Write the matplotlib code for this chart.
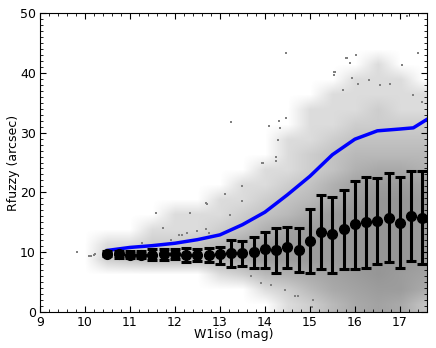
import numpy as np
import matplotlib
matplotlib.use("Agg")
import matplotlib.pyplot as plt

# =====================================================
# Data
# =====================================================

# binned medians with asymmetric spread
bin_mag = [10.5, 10.75, 11.0, 11.25, 11.5, 11.75, 12.0, 12.25, 12.5, 12.75,
           13.0, 13.25, 13.5, 13.75, 14.0, 14.25, 14.5, 14.75, 15.0, 15.25,
           15.5, 15.75, 16.0, 16.25, 16.5, 16.75, 17.0, 17.25, 17.5]
bin_rfuzzy = [9.75, 9.65, 9.6, 9.6, 9.6, 9.7, 9.7, 9.6, 9.6, 9.6,
              9.65, 9.8, 9.8, 10.1, 10.5, 10.4, 10.8, 10.4, 11.9, 13.4,
              13.0, 13.85, 14.7, 15.0, 15.25, 15.8, 14.9, 16.05, 15.8]
bin_low = [9.3, 9.1, 9.0, 9.0, 8.7, 8.7, 8.9, 8.4, 8.6, 8.4,
           8.1, 7.6, 7.7, 7.3, 7.3, 6.6, 7.3, 6.7, 6.5, 7.2,
           6.6, 7.25, 7.2, 7.4, 7.95, 8.35, 7.4, 8.55, 8.1]
bin_high = [10.2, 10.2, 10.25, 10.25, 10.5, 10.6, 10.5, 10.75, 10.6, 10.75,
            10.9, 12.1, 11.8, 12.6, 13.4, 14.1, 14.2, 14.1, 17.2, 19.6,
            19.3, 20.35, 21.9, 22.6, 22.45, 23.25, 22.5, 23.55, 23.55]

# blue curve
curve_mag = [10.5, 11.0, 11.5, 12.0, 12.5, 13.0, 13.5, 14.0, 14.5, 15.0,
             15.5, 16.0, 16.5, 17.0, 17.3, 17.6]
curve_rfuzzy = [10.3, 10.8, 11.1, 11.5, 12.1, 12.9, 14.6, 16.7, 19.6, 22.7,
                26.3, 28.9, 30.3, 30.6, 30.8, 32.2]

# density of the grey cloud (0-9), rows from y=50 down to y=0 in 2.5 steps,
# columns centred on 10.0, 10.5, ... 17.5 mag
cloud_rows = [
    "0000000000000000",  # 47.5-50
    "0000000000000000",
    "0000000000000000",
    "0000000000000100",  # 40-42.5
    "0000000000001110",
    "0000000000011111",
    "0000000000111211",
    "0000000000112222",  # 30-32.5
    "0000000001123333",
    "0000000001234444",
    "0000000011235665",
    "0000000112357887",  # 20-22.5
    "0000001123468998",
    "0000111234689998",
    "0001112357889998",
    "0112234688889998",  # 10-12.5
    "0234445688889998",
    "0000001245678987",
    "0000000012467886",
    "0000000001246763",  # 0-2.5
]
cloud = np.array([[int(c) for c in row] for row in cloud_rows], dtype=float)

# isolated points outside the dense cloud
out_mag = [9.83, 10.1, 10.14, 10.19, 10.22, 11.04, 11.26, 11.59, 11.74, 11.91,
           12.1, 12.15, 12.26, 12.33, 12.48, 12.69, 12.72, 12.76, 12.69, 13.11,
           13.22, 13.25, 13.48, 13.5, 13.93, 13.96, 14.1, 14.25, 14.25, 14.3,
           14.31, 14.33, 14.47, 14.48, 15.54, 15.54, 15.55, 15.74, 15.81, 15.82,
           15.89, 15.94, 16.02, 16.06, 16.32, 16.56, 16.78, 17.04, 17.15, 17.3,
           17.4, 17.5, 13.7, 13.92, 14.14, 14.44, 14.66, 14.74, 15.04, 15.07]
out_rfuzzy = [10.1, 9.4, 9.3, 9.5, 9.7, 10.9, 11.5, 16.6, 14.1, 12.0,
              12.9, 12.9, 13.2, 16.5, 13.6, 13.8, 18.0, 13.2, 18.2, 19.7,
              16.2, 31.7, 18.5, 21.1, 25.0, 25.0, 31.1, 26.0, 25.2, 28.8,
              31.9, 30.7, 32.5, 43.3, 40.2, 39.6, 40.2, 37.2, 42.4, 42.4,
              41.6, 39.1, 43.0, 38.1, 38.8, 38.0, 38.1, 41.3, 49.5, 36.3,
              43.3, 35.2, 6.0, 4.8, 4.5, 3.7, 2.6, 2.6, 0.9, 2.0]

# =====================================================
# Figure
# =====================================================

plt.rcParams["font.family"] = "DejaVu Sans"
plt.rcParams["font.size"] = 9

fig = plt.figure(figsize=(4.36, 3.48), dpi=100)
ax = fig.add_axes([0.0917, 0.1034, 0.8873, 0.8592])

# cloud as a grey wash
rgba = np.zeros(cloud.shape + (4,))
rgba[..., :3] = 0.5
rgba[..., 3] = 0.82 * (cloud / 9.0) ** 0.5
ax.imshow(
    rgba,
    extent=[9.75, 17.75, 0, 50],
    origin="upper",
    aspect="auto",
    interpolation="bilinear",
    zorder=1
)

ax.scatter(
    out_mag,
    out_rfuzzy,
    s=3,
    marker="s",
    color="#808080",
    linewidths=0,
    zorder=2
)

ax.plot(
    curve_mag,
    curve_rfuzzy,
    color="#0000ff",
    lw=2.5,
    zorder=3
)

yerr = [
    np.array(bin_rfuzzy) - np.array(bin_low),
    np.array(bin_high) - np.array(bin_rfuzzy)
]

ax.errorbar(
    bin_mag,
    bin_rfuzzy,
    yerr=yerr,
    fmt="o",
    color="black",
    markersize=7,
    elinewidth=2.2,
    capsize=3.8,
    capthick=2.2,
    zorder=4
)

# =====================================================
# Axes styling
# =====================================================

ax.set_xlim(9, 17.6)
ax.set_ylim(0, 50)

ax.set_xticks(range(9, 18))
ax.set_yticks(range(0, 51, 10))
ax.set_xticks(np.arange(9, 17.61, 0.2), minor=True)
ax.set_yticks(range(0, 51, 1), minor=True)

ax.tick_params(which="both", direction="in", top=True, right=True)
ax.tick_params(which="major", length=4, width=0.8, pad=3)
ax.tick_params(which="minor", length=2, width=0.6)

ax.set_xlabel("W1iso (mag)", labelpad=-1)
ax.set_ylabel("Rfuzzy (arcsec)", labelpad=0)

fig.savefig("out.png", dpi=100)
